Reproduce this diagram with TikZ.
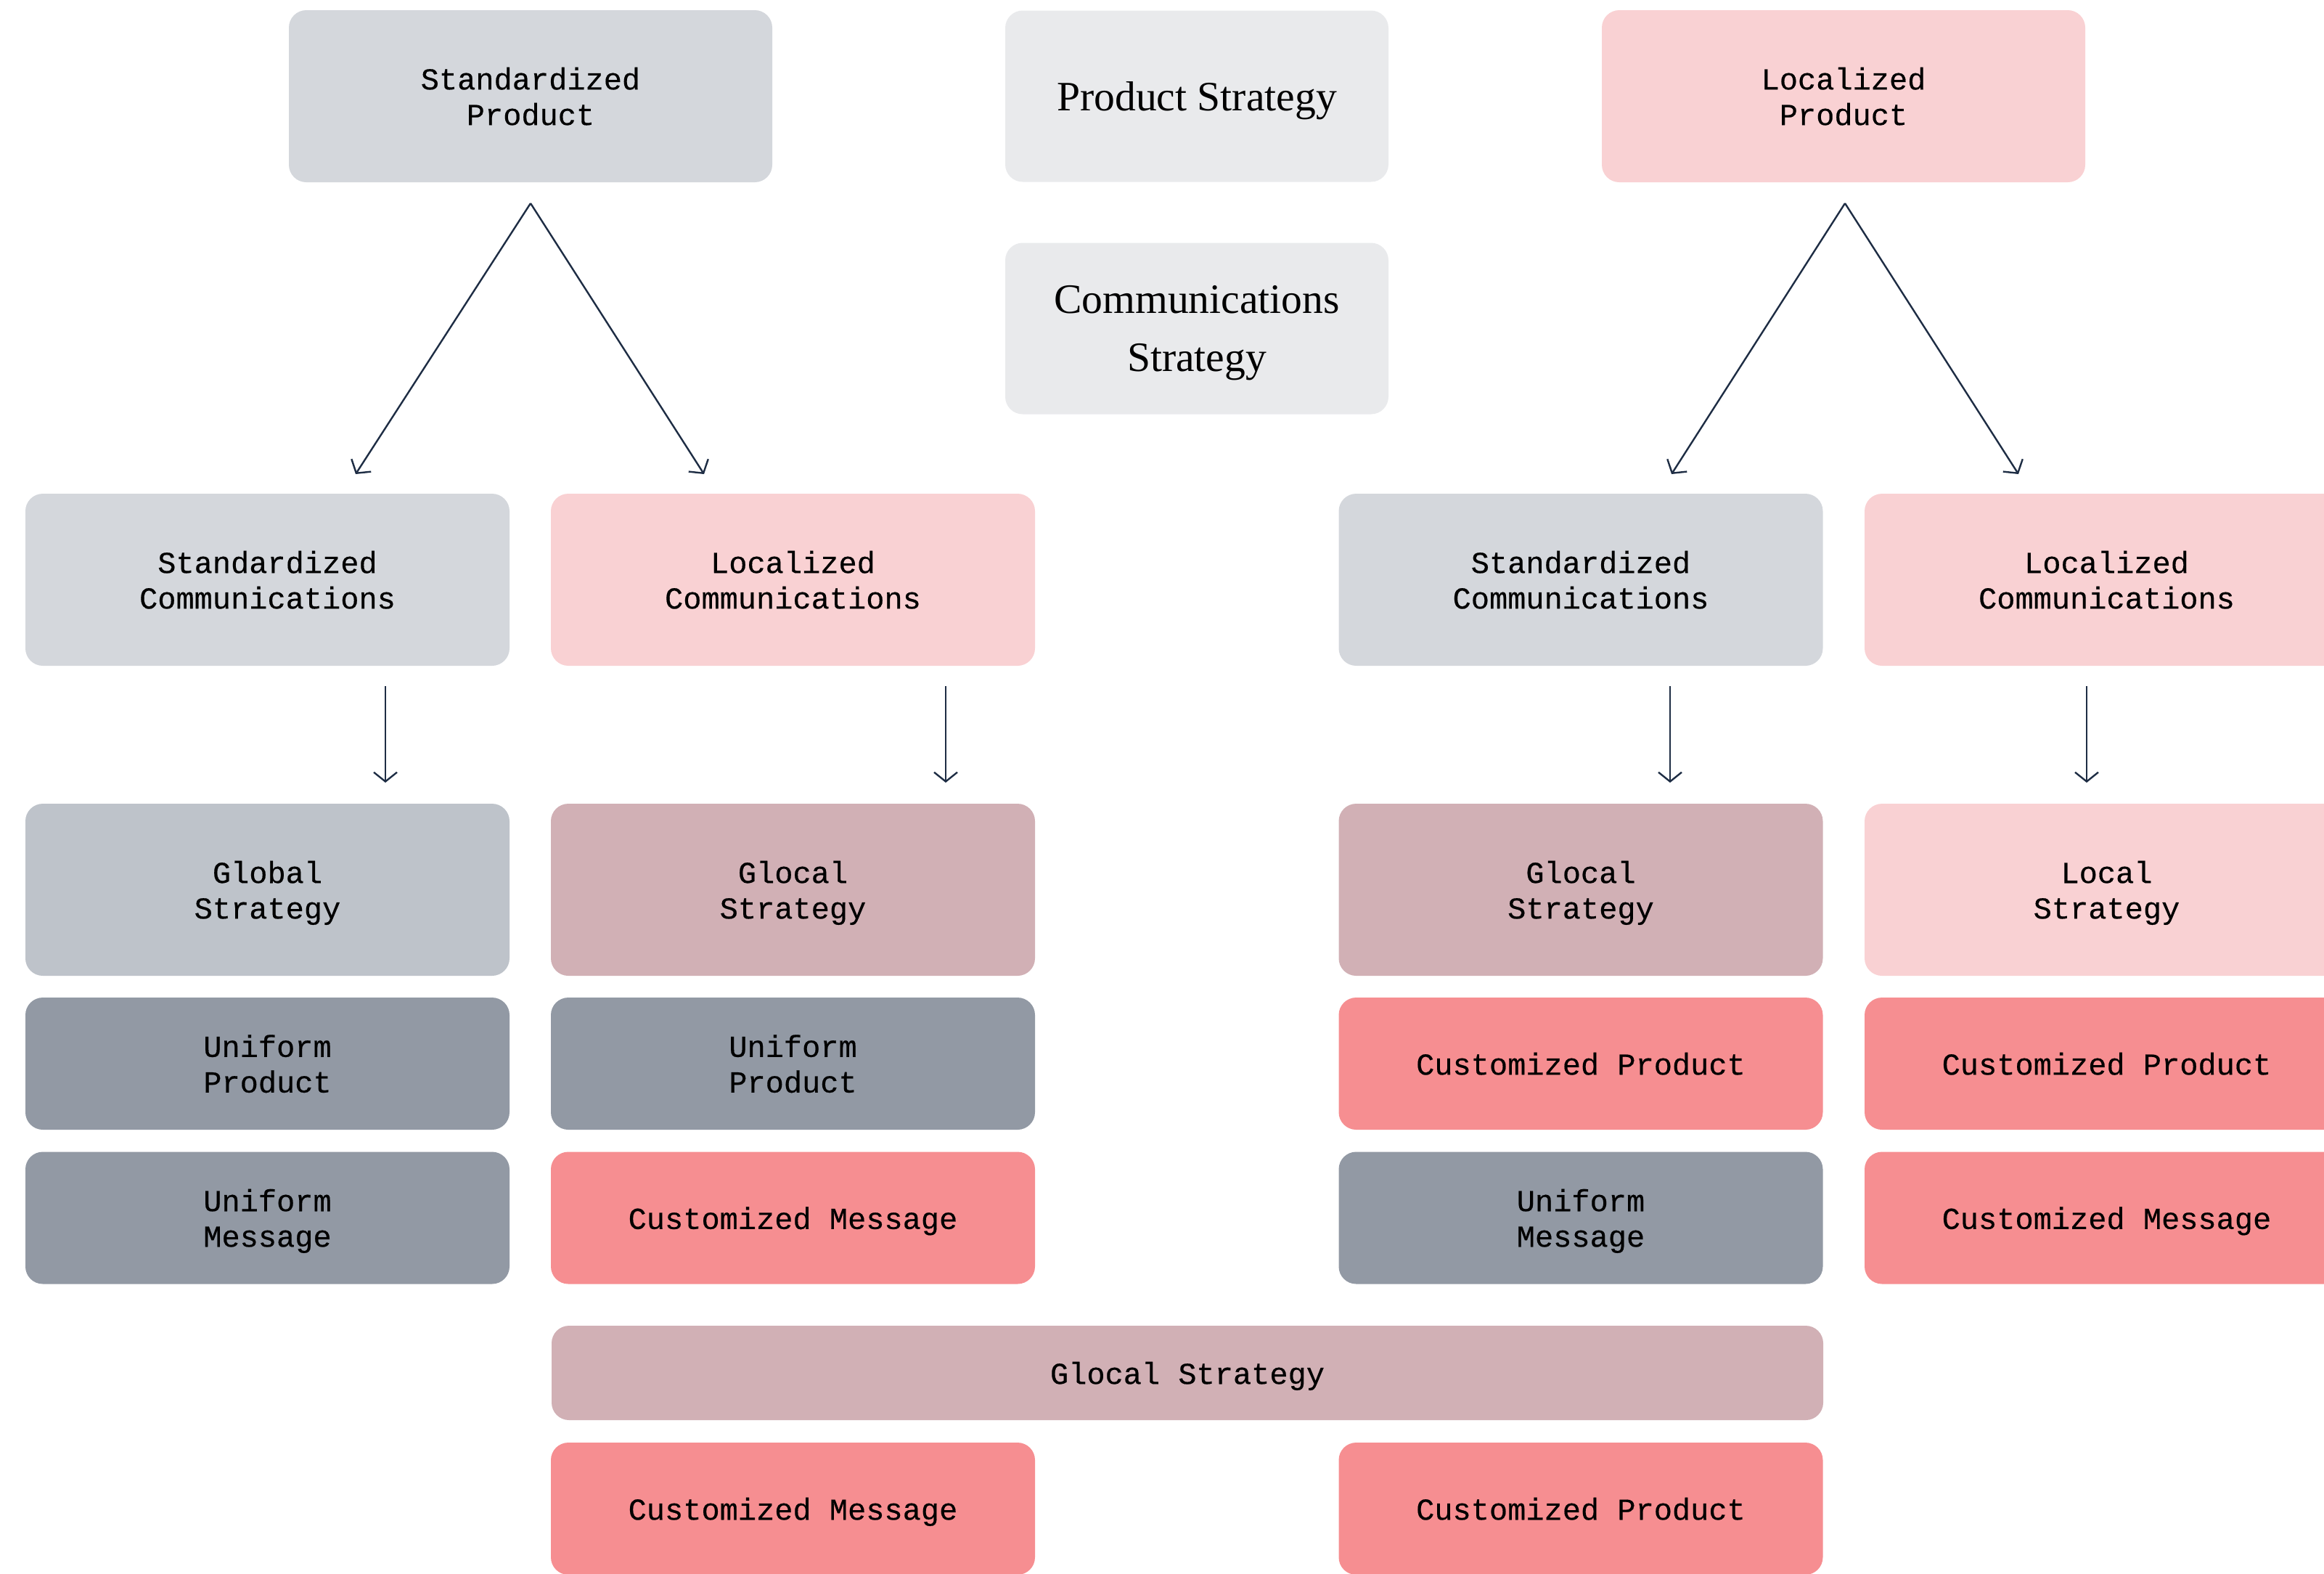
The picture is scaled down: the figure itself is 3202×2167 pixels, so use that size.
\documentclass[tikz,border=0pt]{standalone}
\usepackage{fontspec}
\setmainfont{Liberation Serif}
\newfontfamily\monof[FakeBold=0.4]{Liberation Mono}
\usetikzlibrary{arrows.meta}
\definecolor{stdgray}{HTML}{D4D7DC}
\definecolor{headgray}{HTML}{E9EAEC}
\definecolor{lightpink}{HTML}{F9D1D3}
\definecolor{globalgray}{HTML}{BEC3CA}
\definecolor{mauve}{HTML}{D1B0B5}
\definecolor{slate}{HTML}{9299A4}
\definecolor{salmon}{HTML}{F68E91}
\definecolor{arrowc}{HTML}{1E2D44}
\tikzset{
  box/.style={rounded corners=6pt, inner sep=0pt, align=center, text=black,
    text depth=0pt, font=\monof\fontsize{10.5}{12.25}\selectfont},
  tall/.style={box, minimum width=166.75pt, minimum height=59.25pt},
  short/.style={box, minimum width=166.75pt, minimum height=45.5pt},
  head/.style={box, fill=headgray, minimum width=132pt, minimum height=59pt,
    font=\fontsize{14.4}{20}\selectfont},
  arr/.style={draw=arrowc, line width=0.6pt, -{Straight Barb[length=3.2pt,width=8pt]}}
}
\begin{document}
\begin{tikzpicture}[x=0.25pt,y=-0.25pt]
\useasboundingbox (0,0) rectangle (3202,2167);
\clip (0,0) rectangle (3202,2167);
% top row
\node[tall, fill=stdgray, minimum width=166.5pt] (sp) at (731,132.5) {Standardized\\Product};
\node[head] (ps) at (1649,132.5) {Product Strategy};
\node[tall, fill=lightpink, minimum width=166.5pt] (lp) at (2540,132.5) {Localized\\Product};
\node[head] (cs) at (1649,452.5) {Communications\\Strategy};
% row 2
\node[tall, fill=stdgray] (sc1) at (368.5,798.5) {Standardized\\Communications};
\node[tall, fill=lightpink] (lc1) at (1092.5,798.5) {Localized\\Communications};
\node[tall, fill=stdgray] (sc2) at (2178,798.5) {Standardized\\Communications};
\node[tall, fill=lightpink] (lc2) at (2902.5,798.5) {Localized\\Communications};
% row 3
\node[tall, fill=globalgray] (gs) at (368.5,1225.5) {Global\\Strategy};
\node[tall, fill=mauve] (gl1) at (1092.5,1225.5) {Glocal\\Strategy};
\node[tall, fill=mauve] (gl2) at (2178,1225.5) {Glocal\\Strategy};
\node[tall, fill=lightpink] (ls) at (2902.5,1225.5) {Local\\Strategy};
% row 4
\node[short, fill=slate] (up1) at (368.5,1465) {Uniform\\Product};
\node[short, fill=slate] (up2) at (1092.5,1465) {Uniform\\Product};
\node[short, fill=salmon] (cp1) at (2178,1465) {Customized Product};
\node[short, fill=salmon] (cp2) at (2902.5,1465) {Customized Product};
% row 5
\node[short, fill=slate] (um1) at (368.5,1677.5) {Uniform\\Message};
\node[short, fill=salmon] (cm1) at (1092.5,1677.5) {Customized Message};
\node[short, fill=slate] (um2) at (2178,1677.5) {Uniform\\Message};
\node[short, fill=salmon] (cm2) at (2902.5,1677.5) {Customized Message};
% row 6 and 7
\node[box, fill=mauve, minimum width=438pt, minimum height=32.5pt] (gbar) at (1636,1891) {Glocal Strategy};
\node[short, fill=salmon] (cm3) at (1092.5,2078) {Customized Message};
\node[short, fill=salmon] (cp3) at (2178,2078) {Customized Product};
% connectors
\coordinate (a0) at (731,280);
\coordinate (a1) at (490,653);
\coordinate (a2) at (970,653);
\coordinate (b0) at (2542,280);
\coordinate (b1) at (2303,653);
\coordinate (b2) at (2781,653);
\draw[arr] (a0) -- (a1);
\draw[arr] (a0) -- (a2);
\draw[arr] (b0) -- (b1);
\draw[arr] (b0) -- (b2);
\coordinate (v1s) at (531,945);  \coordinate (v1e) at (531,1078);
\coordinate (v2s) at (1303,945); \coordinate (v2e) at (1303,1078);
\coordinate (v3s) at (2301,945); \coordinate (v3e) at (2301,1078);
\coordinate (v4s) at (2875,945); \coordinate (v4e) at (2875,1078);
\draw[arr] (v1s) -- (v1e);
\draw[arr] (v2s) -- (v2e);
\draw[arr] (v3s) -- (v3e);
\draw[arr] (v4s) -- (v4e);
\end{tikzpicture}
\end{document}
